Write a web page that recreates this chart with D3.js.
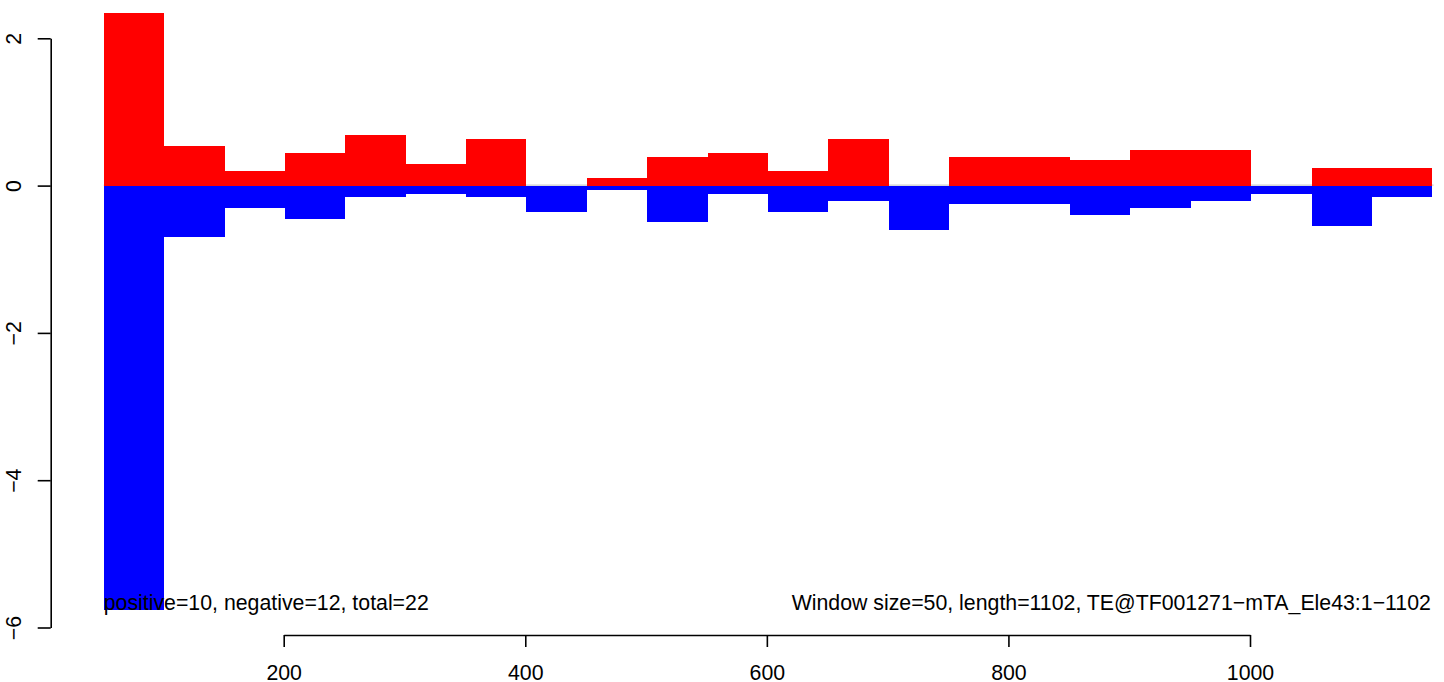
<!DOCTYPE html>
<html>
<head>
<meta charset="utf-8">
<script src="https://cdn.jsdelivr.net/npm/d3@7"></script>
<style>
  html, body { margin: 0; padding: 0; background: #fff; }
  svg { display: block; }
  text { font-family: "Liberation Sans", Arial, Helvetica, sans-serif; fill: #000; }
</style>
</head>
<body>
<svg id="chart" width="1444" height="682"></svg>
<script>
// ---- data ----
const windowStarts = [51, 101, 151, 201, 251, 301, 351, 401, 451, 501, 551,
                      601, 651, 701, 751, 801, 851, 901, 951, 1001, 1051, 1101];
const windowSize = 50;
const positiveValues = [2.343, 0.543, 0.204, 0.444, 0.688, 0.294, 0.634, 0, 0.104, 0.389, 0.444,
                        0.200, 0.634, 0, 0.389, 0.389, 0.349, 0.484, 0.484, 0, 0.240, 0.240];
const negativeValues = [-5.767, -0.692, -0.299, -0.448, -0.149, -0.109, -0.149, -0.353, -0.058, -0.488, -0.109,
                        -0.353, -0.204, -0.597, -0.244, -0.244, -0.393, -0.299, -0.204, -0.109, -0.543, -0.149];
const xTicks = [200, 400, 600, 800, 1000];
const yTicks = [-6, -4, -2, 0, 2];
const zeroLineExtent = [51, 1152];
const leftLabel = "positive=10, negative=12, total=22";
const rightLabel = "Window size=50, length=1102, TE@TF001271\u2212mTA_Ele43:1\u22121102";

// ---- layout ----
const svg = d3.select("#chart");
const x = d3.scaleLinear().domain([200, 1000]).range([283.7, 1250]);
const y = d3.scaleLinear().domain([-6, 2]).range([627.5, 38.3]);
const fontSize = 21.3;

// zero reference line (grey), drawn under bars
svg.append("line")
  .attr("x1", x(zeroLineExtent[0])).attr("x2", x(zeroLineExtent[1]))
  .attr("y1", y(0) - 0.5).attr("y2", y(0) - 0.5)
  .attr("stroke", "#bebebe").attr("stroke-width", 1);

const bars = windowStarts.map((s, i) => ({ s, e: s + windowSize, pos: positiveValues[i], neg: negativeValues[i] }));

svg.append("g").attr("shape-rendering", "crispEdges")
  .selectAll("rect").data(bars.filter(d => d.pos > 0)).join("rect")
  .attr("x", d => x(d.s)).attr("width", d => x(d.e) - x(d.s))
  .attr("y", d => y(d.pos)).attr("height", d => y(0) - y(d.pos))
  .attr("fill", "#ff0000");

svg.append("g").attr("shape-rendering", "crispEdges")
  .selectAll("rect").data(bars.filter(d => d.neg < 0)).join("rect")
  .attr("x", d => x(d.s)).attr("width", d => x(d.e) - x(d.s))
  .attr("y", y(0)).attr("height", d => y(d.neg) - y(0))
  .attr("fill", "#0000ff");

const fmt = d => (d < 0 ? "\u2212" : "") + Math.abs(d);

// y axis
const yAxis = svg.append("g").attr("transform", "translate(50.7,0)")
  .call(d3.axisLeft(y).tickValues(yTicks).tickSize(13).tickSizeOuter(0).tickFormat(fmt));
yAxis.select(".domain").attr("stroke", "#000").attr("stroke-width", 1.6);
yAxis.selectAll(".tick line").attr("stroke", "#000").attr("stroke-width", 1.6);
yAxis.selectAll(".tick text")
  .attr("x", 0).attr("dy", 0)
  .attr("transform", "translate(-29.7,0) rotate(-90)")
  .attr("text-anchor", "middle")
  .style("font-size", fontSize + "px")
  .style("font-family", "'Liberation Sans', Arial, sans-serif");

// x axis
const xAxis = svg.append("g").attr("transform", "translate(0,635)")
  .call(d3.axisBottom(x).tickValues(xTicks).tickSize(12).tickSizeOuter(0).tickFormat(fmt));
xAxis.select(".domain").attr("stroke", "#000").attr("stroke-width", 1.6);
xAxis.selectAll(".tick line").attr("stroke", "#000").attr("stroke-width", 1.6);
xAxis.selectAll(".tick text")
  .attr("y", 45).attr("dy", 0)
  .style("font-size", fontSize + "px")
  .style("font-family", "'Liberation Sans', Arial, sans-serif");

// annotations
svg.append("text").attr("x", x(windowStarts[0])).attr("y", 609.5)
  .attr("text-anchor", "start").style("font-size", fontSize + "px").text(leftLabel);
svg.append("text").attr("x", x(windowStarts[windowStarts.length - 1] + windowSize) - 1.5).attr("y", 609.5)
  .attr("text-anchor", "end").style("font-size", fontSize + "px").text(rightLabel);
</script>
</body>
</html>
